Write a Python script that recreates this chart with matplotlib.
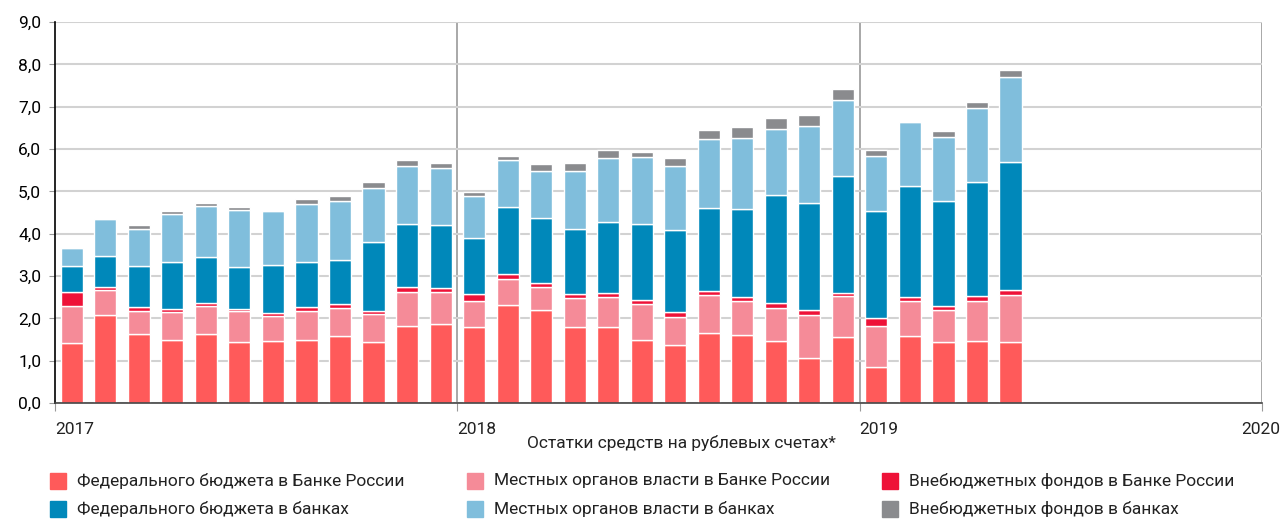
import numpy as np
import pandas as pd
import matplotlib
matplotlib.use("Agg")
import matplotlib.pyplot as plt
from matplotlib.patches import Rectangle

plt.rcParams['font.family'] = ['Roboto', 'DejaVu Sans']

months = pd.date_range("2017-01-01", "2019-05-01", freq="MS")

# трлн руб.
fed_cbr = [1.42, 2.08, 1.63, 1.50, 1.62, 1.43, 1.46, 1.48, 1.58, 1.45, 1.81, 1.86,
           1.80, 2.31, 2.19, 1.79, 1.79, 1.50, 1.36, 1.66, 1.60, 1.46, 1.06, 1.57,
           0.86, 1.58, 1.45, 1.46, 1.43]
loc_cbr = [0.87, 0.59, 0.55, 0.64, 0.67, 0.74, 0.59, 0.70, 0.66, 0.65, 0.82, 0.76,
           0.60, 0.63, 0.55, 0.68, 0.71, 0.84, 0.68, 0.88, 0.80, 0.79, 1.01, 0.95,
           0.95, 0.84, 0.75, 0.96, 1.13]
ext_cbr = [0.34, 0.07, 0.09, 0.08, 0.08, 0.05, 0.08, 0.08, 0.09, 0.08, 0.10, 0.09,
           0.17, 0.10, 0.10, 0.11, 0.11, 0.10, 0.12, 0.10, 0.10, 0.11, 0.12, 0.09,
           0.19, 0.09, 0.10, 0.11, 0.11]
fed_bank = [0.61, 0.73, 0.97, 1.10, 1.07, 1.00, 1.14, 1.06, 1.05, 1.62, 1.50, 1.49,
            1.32, 1.58, 1.52, 1.52, 1.67, 1.80, 1.93, 1.97, 2.09, 2.55, 2.54, 2.76,
            2.53, 2.61, 2.48, 2.69, 3.02]
loc_bank = [0.43, 0.87, 0.86, 1.14, 1.21, 1.35, 1.27, 1.37, 1.39, 1.29, 1.37, 1.34,
            1.01, 1.12, 1.13, 1.37, 1.50, 1.58, 1.50, 1.63, 1.68, 1.57, 1.81, 1.79,
            1.31, 1.52, 1.51, 1.75, 2.01]
ext_bank = [0.00, 0.00, 0.10, 0.07, 0.07, 0.06, 0.00, 0.14, 0.13, 0.12, 0.13, 0.12,
            0.08, 0.09, 0.16, 0.19, 0.20, 0.12, 0.19, 0.22, 0.25, 0.25, 0.26, 0.26,
            0.14, 0.00, 0.13, 0.13, 0.17]

labels = ["Федерального бюджета в Банке России",
          "Местных органов власти в Банке России",
          "Внебюджетных фондов в Банке России",
          "Федерального бюджета в банках",
          "Местных органов власти в банках",
          "Внебюджетных фондов в банках"]
colors = ["#ff5a5a", "#f58b98", "#ee1238", "#0088ba", "#80bedc", "#8a8b8e"]
series = [fed_cbr, loc_cbr, ext_cbr, fed_bank, loc_bank, ext_bank]

x = months.year + (months.month - 0.5) / 12

fig = plt.figure(figsize=(12.88, 5.2), dpi=100)
ax = fig.add_axes([55 / 1288, 117 / 520, 1207 / 1288, 381 / 520])

bottom = np.zeros(len(x))
for vals, col in zip(series, colors):
    vals = np.array(vals)
    ax.bar(x, vals, width=0.66 / 12, bottom=bottom, color=col,
           edgecolor="white", linewidth=1.0, zorder=2)
    bottom += vals

ax.set_xlim(2017, 2020)
ax.set_ylim(0, 9)
ax.set_yticks(np.arange(0, 9.1, 1))
ax.set_yticklabels([f"{v:.1f}".replace(".", ",") for v in np.arange(0, 9.1, 1)])
ax.set_xticks([2017, 2018, 2019, 2020])
ax.set_xticklabels([])

ax.grid(axis="y", color="#d2d2d2", linewidth=1.5, zorder=0)
for yr in [2018, 2019, 2020]:
    ax.axvline(yr, color="#9a9a9a", linewidth=1.2, zorder=1)

for s in ["top", "right"]:
    ax.spines[s].set_visible(False)
ax.spines["left"].set_color("black")
ax.spines["left"].set_linewidth(1.2)
ax.spines["bottom"].set_color("#444444")
ax.spines["bottom"].set_linewidth(1.2)
ax.spines["left"].set_zorder(4)
ax.spines["bottom"].set_zorder(4)
ax.tick_params(axis="y", length=4, color="#999999", labelsize=12.5, pad=6)
ax.tick_params(axis="x", length=6, color="#999999")

for yr in [2017, 2018, 2019, 2020]:
    ha = "center" if yr == 2020 else "left"
    ax.text(yr if yr < 2020 else yr - 0.003, -0.62, str(yr), ha=ha, va="center",
            fontsize=12.5, color="#222222")

fig.text(681 / 1288, 1 - 443 / 520, "Остатки средств на рублевых счетах*",
         ha="center", va="center", fontsize=12.5, color="#222222")

# легенда вручную: 3 колонки, 2 строки
col_x = [50, 467, 882]
row_y = [481, 509]
for i, (lab, col) in enumerate(zip(labels, colors)):
    cx = col_x[i % 3]
    cy = row_y[i // 3]
    fig.add_artist(Rectangle((cx / 1288, 1 - (cy + 8) / 520), 16 / 1288, 16 / 520,
                             transform=fig.transFigure, color=col))
    fig.text((cx + 27) / 1288, 1 - cy / 520, lab, ha="left", va="center",
             fontsize=12.5, color="#222222")

fig.savefig("out.png", dpi=100)
